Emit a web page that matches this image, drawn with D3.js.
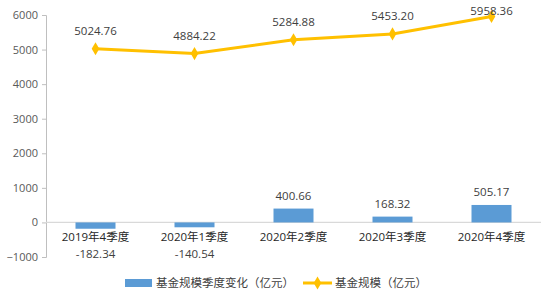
<!DOCTYPE html>
<html>
<head>
<meta charset="utf-8">
<script src="https://cdn.jsdelivr.net/npm/d3@7"></script>
<style>
  body { margin: 0; background: #fff; }
  text { font-family: "Open Sans", "Noto Sans CJK SC", sans-serif; }
</style>
</head>
<body>
<script>
const quarters = ['2019年4季度', '2020年1季度', '2020年2季度', '2020年3季度', '2020年4季度'];
const changeValues = [-182.34, -140.54, 400.66, 168.32, 505.17];
const scaleValues = [5024.76, 4884.22, 5284.88, 5453.20, 5958.36];
const yTicks = [-1000, 0, 1000, 2000, 3000, 4000, 5000, 6000];

const width = 557;
const height = 302;
const plotLeft = 46, plotRight = 541, plotTop = 15, plotBottom = 257;

const svg = d3.select('body').append('svg')
    .attr('width', width)
    .attr('height', height);

const x = d3.scaleBand()
    .domain(quarters)
    .range([plotLeft, plotRight]);

const y = d3.scaleLinear()
    .domain([-1000, 6000])
    .range([plotBottom, plotTop]);

// y axis
const yAxis = d3.axisLeft(y)
    .tickValues(yTicks)
    .tickSize(4)
    .tickPadding(4)
    .tickFormat(d3.format('d'));

const gy = svg.append('g')
    .attr('transform', 'translate(' + plotLeft + ',0)')
    .call(yAxis);
gy.selectAll('path, line').attr('stroke', '#bfbfbf');
gy.selectAll('text')
    .attr('fill', '#595959')
    .style('font-size', '11px');

// zero line
svg.append('line')
    .attr('x1', plotLeft).attr('x2', plotRight)
    .attr('y1', y(0)).attr('y2', y(0))
    .attr('stroke', '#d9d9d9')
    .attr('stroke-width', 1.2);

// bars
const barW = 40;
svg.selectAll('rect.bar')
    .data(changeValues)
    .enter()
    .append('rect')
    .attr('class', 'bar')
    .attr('x', (d, i) => x(quarters[i]) + x.bandwidth() / 2 - barW / 2)
    .attr('y', (d) => y(Math.max(0, d)))
    .attr('width', barW)
    .attr('height', (d) => Math.abs(y(d) - y(0)))
    .style('fill', '#5b9bd5');

// category labels
svg.selectAll('text.cat')
    .data(quarters)
    .enter()
    .append('text')
    .attr('class', 'cat')
    .attr('x', (d) => x(d) + x.bandwidth() / 2)
    .attr('y', y(0) + 19)
    .attr('text-anchor', 'middle')
    .attr('fill', '#262626')
    .style('font-size', '11.5px')
    .text((d) => d);

// bar value labels
svg.selectAll('text.barlabel')
    .data(changeValues)
    .enter()
    .append('text')
    .attr('class', 'barlabel')
    .attr('x', (d, i) => x(quarters[i]) + x.bandwidth() / 2)
    .attr('y', (d) => d < 0 ? y(0) + 36 : y(d) - 9)
    .attr('text-anchor', 'middle')
    .attr('fill', '#404040')
    .style('font-size', '11.5px')
    .text((d) => d.toFixed(2));

// line
const line = d3.line()
    .x((d, i) => x(quarters[i]) + x.bandwidth() / 2)
    .y((d) => y(d));

svg.append('path')
    .datum(scaleValues)
    .attr('d', line)
    .attr('fill', 'none')
    .attr('stroke', '#ffc000')
    .attr('stroke-width', 3);

const diamond = d3.symbol().type(d3.symbolDiamond).size(50);
svg.selectAll('path.pt')
    .data(scaleValues)
    .enter()
    .append('path')
    .attr('class', 'pt')
    .attr('d', diamond)
    .attr('transform', (d, i) => 'translate(' + (x(quarters[i]) + x.bandwidth() / 2) + ',' + y(d) + ')')
    .style('fill', '#ffc000');

svg.selectAll('text.linelabel')
    .data(scaleValues)
    .enter()
    .append('text')
    .attr('class', 'linelabel')
    .attr('x', (d, i) => x(quarters[i]) + x.bandwidth() / 2)
    .attr('y', (d) => Math.max(y(d) - 14, 15))
    .attr('text-anchor', 'middle')
    .attr('fill', '#404040')
    .style('font-size', '11.5px')
    .text((d) => d.toFixed(2));

// legend
const lg = svg.append('g');
lg.append('rect')
    .attr('x', 125).attr('y', 279)
    .attr('width', 27).attr('height', 8)
    .style('fill', '#5b9bd5');
lg.append('text')
    .attr('x', 156).attr('y', 287)
    .attr('fill', '#404040')
    .style('font-size', '11.5px')
    .text('基金规模季度变化（亿元）');
lg.append('line')
    .attr('x1', 303).attr('x2', 332)
    .attr('y1', 283).attr('y2', 283)
    .attr('stroke', '#ffc000')
    .attr('stroke-width', 3);
lg.append('path')
    .attr('d', diamond)
    .attr('transform', 'translate(317.5,283)')
    .style('fill', '#ffc000');
lg.append('text')
    .attr('x', 335).attr('y', 287)
    .attr('fill', '#404040')
    .style('font-size', '11.5px')
    .text('基金规模（亿元）');
</script>
</body>
</html>
